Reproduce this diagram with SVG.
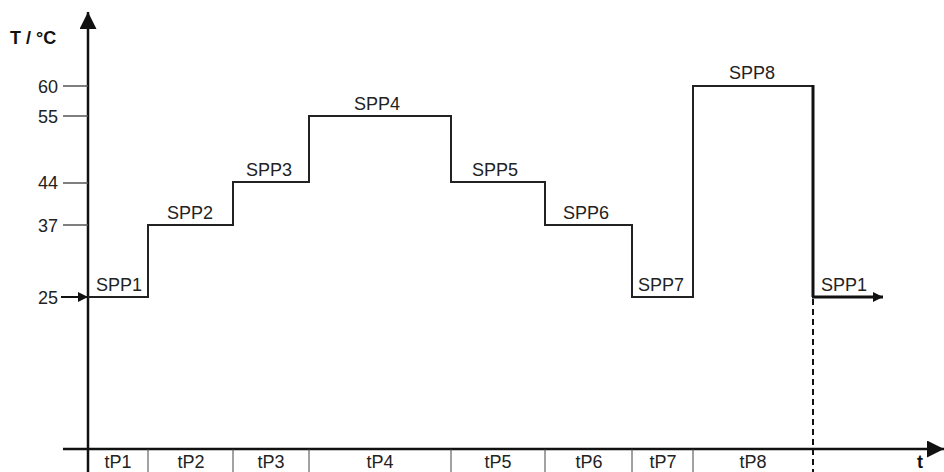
<svg xmlns="http://www.w3.org/2000/svg" width="944" height="472" viewBox="0 0 944 472">
<defs>
<style>
text{font-family:"Liberation Sans",Arial,sans-serif;font-size:18px;fill:#222}
.b{font-weight:bold;fill:#111}
.e{text-anchor:end}
.m{text-anchor:middle}
.axis{stroke:#111;stroke-width:2.5;fill:none}
.tick{stroke:#555;stroke-width:1.5}
.div{stroke:#444;stroke-width:1}
.step{stroke:#222;stroke-width:2;fill:none}
</style>
<marker id="ah" viewBox="0 0 10 10" refX="10" refY="5" markerWidth="10" markerHeight="10" markerUnits="userSpaceOnUse" orient="auto"><path d="M0,0L10,5L0,10z" fill="#111"/></marker>
<marker id="ahL" viewBox="0 0 10 10" refX="10" refY="5" markerWidth="17" markerHeight="17" markerUnits="userSpaceOnUse" orient="auto"><path d="M0,0L10,5L0,10z" fill="#111"/></marker>
</defs>
<g id="axes">
<line class="axis" x1="88" y1="472" x2="88" y2="12" marker-end="url(#ahL)"/>
<line class="axis" x1="63" y1="449" x2="944" y2="449" marker-end="url(#ahL)"/>
<text class="b" x="10" y="44">T / °C</text>
<text class="b m" x="920" y="467.5">t</text>
</g>
<g id="ticks">
<line class="tick" x1="63" y1="86" x2="88" y2="86"/>
<line class="tick" x1="63" y1="116" x2="88" y2="116"/>
<line class="tick" x1="63" y1="183" x2="88" y2="183"/>
<line class="tick" x1="63" y1="225" x2="88" y2="225"/>
<line stroke="#111" stroke-width="2" x1="61" y1="297" x2="88" y2="297" marker-end="url(#ah)"/>
<text class="e" x="58" y="93">60</text>
<text class="e" x="58" y="123">55</text>
<text class="e" x="58" y="189">44</text>
<text class="e" x="58" y="232">37</text>
<text class="e" x="58" y="304">25</text>
</g>
<g id="connectors">
<path class="step" d="M88,297H148V225H233V182H309V116H451V182H545V225H632V297H693V86H813"/>
<line stroke="#111" stroke-width="3" x1="813" y1="85" x2="813" y2="297"/>
<line stroke="#111" stroke-width="3" x1="812" y1="297" x2="883" y2="297" marker-end="url(#ah)"/>
<line stroke="#111" stroke-width="2" stroke-dasharray="6,4" x1="813" y1="299" x2="813" y2="472"/>
</g>
<g id="labels">
<text x="96" y="291">SPP1</text>
<text x="167" y="219">SPP2</text>
<text x="246" y="176">SPP3</text>
<text x="354" y="110">SPP4</text>
<text x="472" y="176">SPP5</text>
<text x="563" y="219">SPP6</text>
<text x="638" y="291">SPP7</text>
<text x="729" y="79">SPP8</text>
<text x="821" y="291">SPP1</text>
</g>
<g id="periods">
<line class="div" x1="148" y1="449" x2="148" y2="472"/>
<line class="div" x1="233" y1="449" x2="233" y2="472"/>
<line class="div" x1="309" y1="449" x2="309" y2="472"/>
<line class="div" x1="451" y1="449" x2="451" y2="472"/>
<line class="div" x1="545" y1="449" x2="545" y2="472"/>
<line class="div" x1="632" y1="449" x2="632" y2="472"/>
<line class="div" x1="693" y1="449" x2="693" y2="472"/>
<text class="m" x="118" y="467.5">tP1</text>
<text class="m" x="191" y="467.5">tP2</text>
<text class="m" x="271" y="467.5">tP3</text>
<text class="m" x="380" y="467.5">tP4</text>
<text class="m" x="498" y="467.5">tP5</text>
<text class="m" x="589" y="467.5">tP6</text>
<text class="m" x="663" y="467.5">tP7</text>
<text class="m" x="753" y="467.5">tP8</text>
</g>
</svg>
